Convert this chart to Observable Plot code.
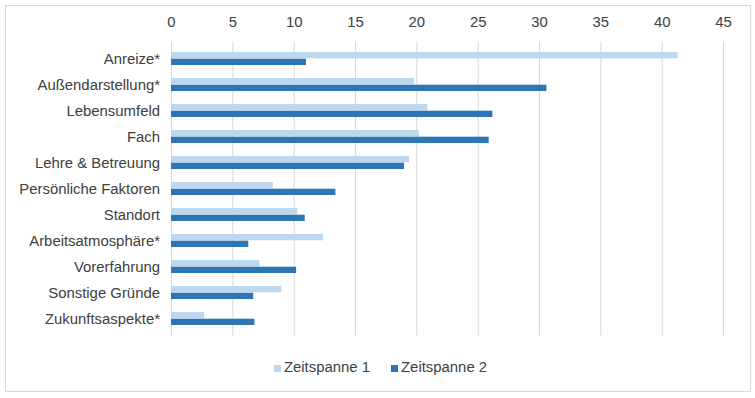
<!DOCTYPE html>
<html>
<head>
<meta charset="utf-8">
<script src="https://cdn.jsdelivr.net/npm/d3@7"></script>
<script src="https://cdn.jsdelivr.net/npm/@observablehq/plot@0.6"></script>
<style>
  html, body { margin: 0; padding: 0; background: #fff; }
  #wrap { position: relative; width: 755px; height: 398px; font-family: "Liberation Sans", Arial, sans-serif; }
  #border { position: absolute; left: 5px; top: 5px; width: 746px; height: 387px; border: 1px solid #d9d9d9; box-sizing: border-box; pointer-events: none; }
  #chart { position: absolute; left: 0; top: 0; }
  #legend { position: absolute; left: 0; top: 359px; width: 755px; display: flex; justify-content: center; gap: 21px; font-size: 14.9px; color: #404040; padding-left: 6px; box-sizing: border-box; }
  .item { display: flex; align-items: center; gap: 3px; }
  .sw { width: 7px; height: 7px; display: inline-block; margin-top: 2px; }
</style>
</head>
<body>
<div id="wrap">
  <div id="chart"></div>
  <div id="border"></div>
  <div id="legend"></div>
</div>
<script>
const categories = ["Anreize*", "Außendarstellung*", "Lebensumfeld", "Fach", "Lehre & Betreuung", "Persönliche Faktoren", "Standort", "Arbeitsatmosphäre*", "Vorerfahrung", "Sonstige Gründe", "Zukunftsaspekte*"];
const zeitspanne1 = [41.3, 19.8, 20.9, 20.2, 19.4, 8.3, 10.3, 12.4, 7.2, 9.0, 2.7];
const zeitspanne2 = [11.0, 30.6, 26.2, 25.9, 19.0, 13.4, 10.9, 6.3, 10.2, 6.7, 6.8];
const seriesNames = ["Zeitspanne 1", "Zeitspanne 2"];
const seriesColors = ["#bdd7ee", "#2e75b6"];
const xTicks = [0, 5, 10, 15, 20, 25, 30, 35, 40, 45];

const rows1 = categories.map((c, i) => ({category: c, value: zeitspanne1[i]}));
const rows2 = categories.map((c, i) => ({category: c, value: zeitspanne2[i]}));

const chart = Plot.plot({
  width: 755,
  height: 398,
  marginLeft: 171,
  marginRight: 32,
  marginTop: 41.6,
  marginBottom: 62.1,
  style: {fontFamily: "'Liberation Sans', Arial, sans-serif", fontSize: "14.9px", color: "#404040", background: "transparent"},
  x: {domain: [0, 45], axis: null},
  y: {domain: categories, paddingInner: 0.5, paddingOuter: 0.25, axis: null},
  marks: [
    Plot.gridX(xTicks, {stroke: "#d9d9d9", strokeOpacity: 1, strokeWidth: 1}),
    Plot.axisX({anchor: "top", ticks: xTicks, tickSize: 0, tickPadding: 15, fontSize: 14.9, fill: "#404040", label: null}),
    Plot.axisY({anchor: "left", tickSize: 0, tickPadding: 11.5, fontSize: 14.9, fill: "#404040", label: null}),
    Plot.barX(rows1, {x: "value", y: "category", fill: seriesColors[0], insetBottom: 6.69}),
    Plot.barX(rows2, {x: "value", y: "category", fill: seriesColors[1], insetTop: 6.69})
  ]
});
document.getElementById("chart").appendChild(chart);

const legend = document.getElementById("legend");
seriesNames.forEach((name, i) => {
  const item = document.createElement("div");
  item.className = "item";
  const sw = document.createElement("span");
  sw.className = "sw";
  sw.style.background = seriesColors[i];
  const t = document.createElement("span");
  t.textContent = name;
  item.appendChild(sw);
  item.appendChild(t);
  legend.appendChild(item);
});
</script>
</body>
</html>
